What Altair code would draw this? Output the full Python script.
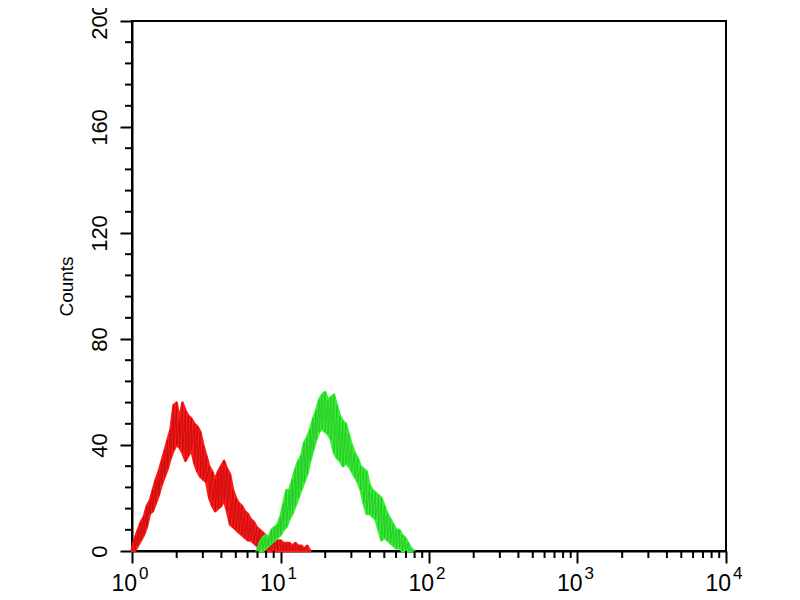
import altair as alt
import pandas as pd

# Histogram bins (log10 of fluorescence intensity) and count envelopes (upper / lower of the noisy trace)
red_log = [0.00, 0.02, 0.04, 0.06, 0.08, 0.10, 0.12, 0.14, 0.16, 0.18,
           0.20, 0.22, 0.24, 0.26, 0.28, 0.30, 0.32, 0.34, 0.36, 0.38,
           0.40, 0.42, 0.44, 0.46, 0.48, 0.50, 0.52, 0.54, 0.56, 0.58,
           0.60, 0.62, 0.64, 0.66, 0.68, 0.70, 0.72, 0.74, 0.76, 0.78,
           0.80, 0.82, 0.84, 0.86, 0.88, 0.90, 0.92, 0.94, 0.96, 0.98,
           1.00, 1.02, 1.04, 1.06, 1.08, 1.10, 1.12, 1.14, 1.16, 1.18, 1.20]
red_hi = [1, 5, 8, 11, 13, 17, 19, 23, 27, 30,
          34, 38, 42, 46, 55, 56, 50, 56, 53, 51,
          50, 48, 47, 45, 40, 36, 32, 30, 27, 30,
          32, 34, 31, 29, 23, 20, 18, 17, 15, 14,
          12, 11, 9, 8, 7, 6, 5, 5, 4, 4,
          4, 3, 3, 3, 2, 3, 2, 2, 1, 2, 0]
red_lo = [0, 0, 2, 4, 6, 9, 14, 15, 18, 21,
          25, 28, 31, 35, 38, 40, 39, 37, 34, 36,
          38, 33, 30, 28, 27, 26, 20, 17, 15, 16,
          17, 19, 15, 10, 9, 8, 7, 6, 5, 4,
          4, 3, 2, 1, 1, 0, 0, 0, 0, 0,
          0, 0, 0, 0, 0, 0, 0, 0, 0, 0, 0]

green_log = [0.84, 0.86, 0.88, 0.90, 0.92, 0.94, 0.96, 0.98, 1.00, 1.02,
             1.04, 1.06, 1.08, 1.10, 1.12, 1.14, 1.16, 1.18, 1.20, 1.22,
             1.24, 1.26, 1.28, 1.30, 1.32, 1.34, 1.36, 1.38, 1.40, 1.42,
             1.44, 1.46, 1.48, 1.50, 1.52, 1.54, 1.56, 1.58, 1.60, 1.62,
             1.64, 1.66, 1.68, 1.70, 1.72, 1.74, 1.76, 1.78, 1.80, 1.82,
             1.84, 1.86, 1.88, 1.90]
green_hi = [0, 3, 5, 6, 5, 8, 9, 10, 13, 18,
            23, 23, 27, 31, 34, 36, 41, 43, 46, 50,
            53, 57, 59, 60, 57, 58, 59, 55, 51, 49,
            48, 44, 40, 37, 35, 32, 31, 30, 25, 23,
            22, 21, 20, 17, 14, 12, 10, 8, 8, 6,
            5, 3, 1, 0]
green_lo = [0, 0, 0, 1, 2, 3, 4, 5, 6, 8,
            9, 12, 14, 17, 20, 23, 26, 29, 34, 38,
            42, 45, 46, 45, 44, 42, 37, 35, 34, 32,
            33, 32, 30, 28, 26, 23, 18, 14, 14, 13,
            12, 8, 4, 5, 4, 3, 2, 1, 1, 0,
            0, 0, 0, 0]

y_major = [0, 40, 80, 120, 160, 200]
y_minor = [8, 16, 24, 32, 48, 56, 64, 72, 88, 96, 104, 112,
           128, 136, 144, 152, 168, 176, 184, 192]
x_major = [1, 10, 100, 1000, 10000]
x_minor = [2, 3, 4, 5, 6, 7, 8, 9,
           20, 30, 40, 50, 60, 70, 80, 90,
           200, 300, 400, 500, 600, 700, 800, 900,
           2000, 3000, 4000, 5000, 6000, 7000, 8000, 9000]
x_base = ["10", "10", "10", "10", "10"]
x_exp = ["0", "1", "2", "3", "4"]

W, H = 594, 530
FONT = "Liberation Sans"

xs = alt.Scale(type="log", domain=[1, 10000], nice=False)
ys = alt.Scale(domain=[0, 200], nice=False, zero=True)


def band_df(logs, his, los):
    return pd.DataFrame({"x": [10 ** v for v in logs], "hi": his, "lo": los})


def zig_df(logs, his, los):
    rows = []
    for i, (lv, h, l) in enumerate(zip(logs, his, los)):
        rows.append({"x": 10 ** lv, "v": h, "o": 2 * i})
        rows.append({"x": 10 ** lv, "v": l, "o": 2 * i + 1})
    return pd.DataFrame(rows)


x_axis = alt.Axis(values=x_major, labels=False, ticks=True, tickSize=12, tickWidth=2,
                  tickColor="black", domain=True, domainColor="black", domainWidth=2,
                  grid=False, title=None)
y_axis = alt.Axis(values=y_major, labelAngle=270, labelAlign="center", labelBaseline="bottom",
                  labelPadding=9, labelFontSize=22, labelFont=FONT, labelColor="black",
                  tickSize=12, tickWidth=2, tickColor="black", domain=True, domainColor="black",
                  domainWidth=2, grid=False, title="Counts", titleFont=FONT, titleFontSize=19,
                  titleFontWeight="normal", titleColor="black", titlePadding=12)


def X(field):
    return alt.X(field, scale=xs, axis=x_axis, title=None)


def Y(field):
    return alt.Y(field, scale=ys, axis=y_axis, title="Counts")


def series_layers(logs, his, los, fill, dark):
    area = alt.Chart(band_df(logs, his, los)).mark_area(
        color=fill, opacity=1, stroke=fill, strokeWidth=2.5, strokeJoin="round").encode(
        x=X("x:Q"), y=Y("lo:Q"), y2="hi:Q",
    )
    zig = alt.Chart(zig_df(logs, his, los)).mark_line(color=dark, strokeWidth=0.9, opacity=0.85).encode(
        x=X("x:Q"), y=Y("v:Q"), order="o:Q",
    )
    return [area, zig]


layers = []
layers += series_layers(red_log, red_hi, red_lo, "#ff1a1a", "#b80c0c")
layers += series_layers(green_log, green_hi, green_lo, "#33f033", "#2cba2c")

ytick_minor = alt.Chart(pd.DataFrame({"v": y_minor})).mark_rule(color="black", strokeWidth=2).encode(
    y=Y("v:Q"), x=alt.value(-7), x2=alt.value(0))
xtick_minor = alt.Chart(pd.DataFrame({"v": x_minor})).mark_rule(color="black", strokeWidth=2).encode(
    x=X("v:Q"), y=alt.value(H), y2=alt.value(H + 7))

lab_df = pd.DataFrame({"v": x_major, "base": x_base, "exp": x_exp})
base_text = alt.Chart(lab_df).mark_text(align="right", baseline="alphabetic", font=FONT,
                                        fontSize=23, color="black", dx=5, dy=40).encode(
    x=X("v:Q"), y=alt.value(H), text="base:N")
exp_text = alt.Chart(lab_df).mark_text(align="left", baseline="alphabetic", font=FONT,
                                       fontSize=17, color="black", dx=7, dy=28).encode(
    x=X("v:Q"), y=alt.value(H), text="exp:N")

chart = alt.layer(*layers, ytick_minor, xtick_minor, base_text, exp_text).properties(
    width=W, height=H,
    padding={"left": 124, "top": 13, "right": 66, "bottom": 41},
    autosize=alt.AutoSizeParams(type="none"),
    background="white",
).configure_view(stroke="black", strokeWidth=2)

chart.save("out.html", embed_options={"renderer": "svg", "actions": False})
